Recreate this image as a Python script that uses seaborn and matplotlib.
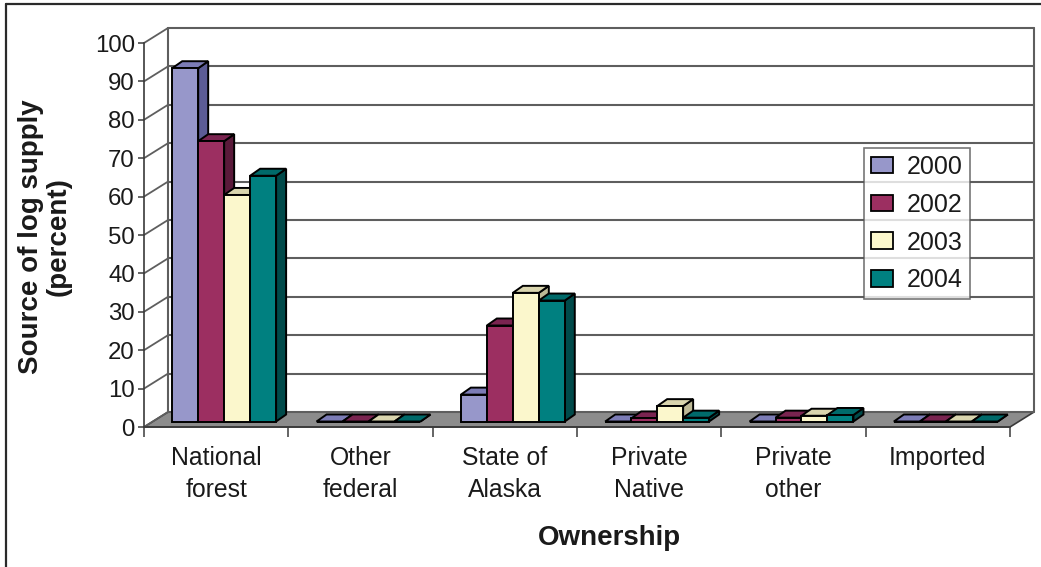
import numpy as np
import pandas as pd
import seaborn as sns
import matplotlib
matplotlib.use("Agg")
import matplotlib.pyplot as plt
from matplotlib.patches import Polygon, Patch
from matplotlib.transforms import IdentityTransform, offset_copy
from matplotlib.lines import Line2D

# ---------------- data ----------------
categories = ["National\nforest", "Other\nfederal", "State of\nAlaska",
              "Private\nNative", "Private\nother", "Imported"]
years = ["2000", "2002", "2003", "2004"]
v2000 = [92, 0, 7, 0, 0, 0]
v2002 = [73, 0, 25, 0.8, 1.0, 0]
v2003 = [59, 0, 33.5, 4, 1.5, 0]
v2004 = [64, 0, 31.5, 1, 1.7, 0]
yticks = list(range(0, 101, 10))

front_colors = ["#9797CA", "#9C2F61", "#FBF7CC", "#008080"]
top_colors = ["#7C7CB6", "#7A2450", "#D9D5AE", "#006A6A"]
side_colors = ["#5C5C96", "#5A1A3A", "#BDB996", "#004A4A"]

# ---------------- style ----------------
sns.set_theme(style="ticks")
plt.rcParams["font.family"] = ["Liberation Sans", "DejaVu Sans"]
TXT = "#1a1a1a"

W, H, DPI = 1041, 567, 100
fig = plt.figure(figsize=(W / DPI, H / DPI), dpi=DPI, facecolor="white")
ax = fig.add_axes([144 / W, 1 - 427 / H, 866 / W, 384 / H])
ax.patch.set_alpha(0)

df = pd.DataFrame({
    "Ownership": categories * len(years),
    "Year": np.repeat(years, len(categories)),
    "Value": v2000 + v2002 + v2003 + v2004,
})
sns.barplot(data=df, x="Ownership", y="Value", hue="Year", order=categories,
            hue_order=years, palette=front_colors, width=0.72, gap=0,
            saturation=1, legend=False, errorbar=None, ax=ax,
            edgecolor="black", linewidth=1.4)

ax.set_xlim(-0.5, len(categories) - 0.5)
ax.set_ylim(0, 100)
fig.canvas.draw()

# collect bars (per hue container) before adding any other artists
bar_info = []
for hi, cont in enumerate(ax.containers):
    for p in cont.patches:
        bar_info.append((hi, p))

def px(x, y):
    return np.asarray(ax.transData.transform((x, y)))

# depth geometry (pixels)
WDX, WDY = 24, 15      # wall depth
BX, BY = 8, 5.5        # bar front offset from front plane
DDX, DDY = 10, 7       # bar depth

xl0, xl1 = ax.get_xlim()
grid_c = "#5e5e5e"

# floor
fl = px(xl0, 0); fr = px(xl1, 0)
floor = Polygon([fl, fr, fr + (WDX, WDY), fl + (WDX, WDY)], closed=True,
                transform=IdentityTransform(), facecolor="#8c8c8c",
                edgecolor="#3a3a3a", lw=1.2, zorder=0.5, clip_on=False)
ax.add_artist(floor)

# back wall gridlines and side wall diagonals
for v in yticks:
    a = px(xl0, v); b = px(xl1, v)
    ax.add_artist(Line2D([a[0] + WDX, b[0] + WDX], [a[1] + WDY, b[1] + WDY],
                         transform=IdentityTransform(), color=grid_c, lw=1.5,
                         zorder=0.8, clip_on=False))
    ax.add_artist(Line2D([a[0], a[0] + WDX], [a[1], a[1] + WDY],
                         transform=IdentityTransform(), color=grid_c, lw=1.3,
                         zorder=0.8, clip_on=False))
for xe in (xl0, xl1):
    a = px(xe, 0); b = px(xe, 100)
    ax.add_artist(Line2D([a[0] + WDX, b[0] + WDX], [a[1] + WDY, b[1] + WDY],
                         transform=IdentityTransform(), color=grid_c, lw=1.5,
                         zorder=0.8, clip_on=False))

# 3D bars
n = len(categories)
bar_info.sort(key=lambda t: t[1].get_x())
shift = offset_copy(ax.transData, fig=fig, x=BX, y=BY, units="dots")
for rank, (hi, p) in enumerate(bar_info):
    x0, w, h = p.get_x(), p.get_width(), p.get_height()
    z = 3 + rank * 0.01
    p.set_transform(shift)
    p.set_clip_on(False)
    p.set_zorder(z + 0.003)
    X0, Y0 = px(x0, 0) + (BX, BY)
    X1, Y1 = px(x0 + w, h) + (BX, BY)
    side = Polygon([(X1, Y0), (X1 + DDX, Y0 + DDY), (X1 + DDX, Y1 + DDY), (X1, Y1)],
                   closed=True, transform=IdentityTransform(),
                   facecolor=side_colors[hi], edgecolor="black", lw=1.4,
                   zorder=z, clip_on=False)
    top = Polygon([(X0, Y1), (X1, Y1), (X1 + DDX, Y1 + DDY), (X0 + DDX, Y1 + DDY)],
                  closed=True, transform=IdentityTransform(),
                  facecolor=top_colors[hi], edgecolor="black", lw=1.4,
                  zorder=z + 0.001, clip_on=False)
    ax.add_artist(side)
    ax.add_artist(top)

# axes, ticks
ax.spines["top"].set_visible(False)
ax.spines["right"].set_visible(False)
for s in ("left", "bottom"):
    ax.spines[s].set_color("#3a3a3a")
    ax.spines[s].set_linewidth(1.2)
ax.set_yticks(yticks)
ax.set_yticklabels([str(t) for t in yticks])
ax.tick_params(axis="y", direction="out", length=4.5, width=1.1, color="#3a3a3a",
               labelsize=17.3, labelcolor=TXT, pad=2)
ax.set_xticks(range(n))
ax.set_xticklabels(categories, linespacing=1.41)
ax.set_xticks(np.arange(xl0, xl1 + 0.01, 1), minor=True)
ax.tick_params(axis="x", which="major", length=0, labelsize=17.8,
               labelcolor=TXT, pad=14)
ax.tick_params(axis="x", which="minor", direction="out", length=7, width=1.1,
               color="#3a3a3a")
ax.set_xlabel("")
ax.set_ylabel("")

# legend
handles = [Patch(facecolor=c, edgecolor="black", lw=1.3, label=y)
           for c, y in zip(front_colors, years)]
leg = ax.legend(handles=handles, loc="upper left",
                bbox_to_anchor=(864 / W, 1 - 148 / H), bbox_transform=fig.transFigure,
                frameon=True, fancybox=False, fontsize=18, handlelength=0.88,
                handleheight=0.64, handletextpad=0.55, labelspacing=0.55,
                borderpad=0.28, borderaxespad=0)
leg.get_frame().set_edgecolor("#555555")
leg.get_frame().set_linewidth(1.2)
leg.set_zorder(10)
for t in leg.get_texts():
    t.set_color(TXT)

# labels
fig.text(45 / W, 1 - 237 / H, "Source of log supply\n(percent)", rotation=90,
         ha="center", va="center", fontsize=20, fontweight="bold",
         linespacing=1.05, multialignment="center", color=TXT)
fig.text(609 / W, 1 - 538 / H, "Ownership", ha="center", va="center",
         fontsize=20, fontweight="bold", color=TXT)

# outer frame (left and top)
fig.add_artist(Line2D([6 / W, 6 / W], [0, 1 - 4 / H], transform=fig.transFigure,
                      color="#2a2a2a", lw=1.6))
fig.add_artist(Line2D([6 / W, 1], [1 - 4 / H, 1 - 4 / H], transform=fig.transFigure,
                      color="#2a2a2a", lw=1.6))

fig.savefig("out.png", dpi=DPI, facecolor="white")
